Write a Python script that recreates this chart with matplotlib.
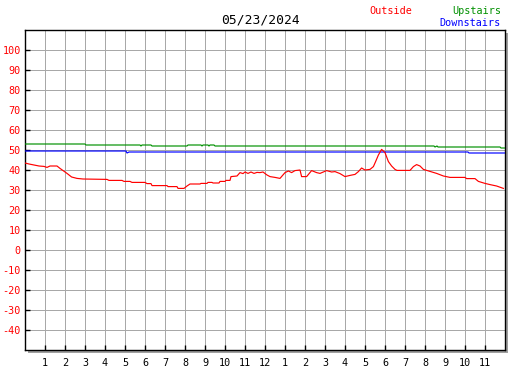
import numpy as np
import matplotlib
matplotlib.use("Agg")
import matplotlib.pyplot as plt
from matplotlib.patches import Rectangle

title = "05/23/2024"
x_labels = ['1','2','3','4','5','6','7','8','9','10','11','12',
            '1','2','3','4','5','6','7','8','9','10','11']
y_ticks = list(range(-40, 101, 10))

outside_h = [0.0, 0.2, 0.45, 0.7, 0.95, 1.1, 1.25, 1.6, 1.75, 2.1, 2.33, 2.6, 2.9,
             4.1, 4.2, 4.85, 4.95, 5.25, 5.35, 6.0, 6.1, 6.3, 6.35, 7.1, 7.15, 7.6,
             7.65, 7.95, 8.1, 8.25, 8.75, 8.8, 9.1, 9.15, 9.35, 9.4, 9.7, 9.75, 10.0,
             10.05, 10.25, 10.3, 10.6, 10.75, 10.9, 11.0, 11.15, 11.3, 11.45, 11.6,
             11.75, 11.9, 12.1, 12.25, 12.5, 12.75, 13.0, 13.17, 13.33, 13.5, 13.75,
             13.83, 14.08, 14.33, 14.58, 14.75, 15.08, 15.33, 15.5, 15.75, 16.0,
             16.25, 16.5, 16.67, 16.83, 17.0, 17.25, 17.42, 17.53, 17.67, 17.83,
             18.0, 18.17, 18.33, 18.5, 18.6, 19.25, 19.42, 19.58, 19.75, 19.92,
             20.25, 20.58, 20.92, 21.25, 22.0, 22.08, 22.5, 22.67, 23.0, 23.25,
             23.58, 23.92]
outside_v = [43.5, 43.0, 42.5, 42.0, 41.8, 41.3, 42.0, 42.0, 40.8, 38.3, 36.5, 35.8, 35.5,
             35.3, 34.8, 34.8, 34.3, 34.3, 33.8, 33.8, 33.2, 33.2, 32.2, 32.2, 31.7, 31.7,
             30.8, 30.8, 32.0, 33.0, 33.0, 33.3, 33.3, 33.8, 33.8, 33.5, 33.5, 34.3, 34.3,
             34.8, 34.8, 36.7, 37.0, 38.7, 38.2, 39.0, 38.3, 39.0, 38.3, 38.8,
             38.7, 39.0, 37.5, 36.7, 36.3, 35.8, 38.7, 39.5, 38.7, 39.7, 40.0,
             36.7, 36.7, 39.7, 38.7, 38.3, 39.7, 39.0, 39.2, 38.2, 36.7,
             37.3, 37.8, 39.2, 41.0, 40.0, 40.3, 41.7, 44.2, 47.5, 50.3,
             48.7, 44.2, 42.0, 40.3, 39.8, 39.8, 41.7, 42.7, 42.0, 40.3,
             39.3, 38.3, 37.0, 36.3, 36.3, 35.7, 35.7, 34.3, 33.3, 32.7,
             32.0, 30.8]

upstairs_h = [0.0, 3.0, 3.05, 5.75, 5.8, 5.85, 6.3, 6.35, 8.1, 8.15, 8.8, 8.85, 8.9,
              9.15, 9.2, 9.25, 9.45, 9.5, 20.45, 20.5, 20.6, 20.65, 23.75, 23.8, 24.0]
upstairs_v = [53.0, 53.0, 52.5, 52.5, 52.0, 52.5, 52.5, 52.0, 52.0, 52.5, 52.5, 52.0, 52.5,
              52.5, 52.0, 52.5, 52.5, 52.0, 52.0, 51.5, 52.0, 51.5, 51.5, 51.0, 51.0]

downstairs_h = [0.0, 5.05, 5.1, 5.2, 22.15, 22.2, 22.3, 24.0]
downstairs_v = [49.5, 49.5, 48.5, 49.0, 49.0, 48.5, 48.5, 48.5]

W, H = 527, 370
fig = plt.figure(figsize=(W/100, H/100), dpi=100)
fig.patch.set_facecolor('white')
L, R, T, B = 25, 505, 30, 350
# shadow
fig.patches.append(Rectangle(((L+3)/W, (H-B-3)/H), (R-L)/W, (B-T)/H,
                             transform=fig.transFigure, facecolor='#a0a0a0',
                             edgecolor='none', zorder=0))
ax = fig.add_axes([L/W, (H-B)/H, (R-L)/W, (B-T)/H], zorder=1)
ax.set_facecolor('white')
ax.set_xlim(0, 24)
ax.set_ylim(-50, 110)

for hh in range(1, 24):
    ax.axvline(hh, color='#a8a8a8', lw=0.72, zorder=1)
for yy in range(-40, 101, 10):
    ax.axhline(yy, color='#a8a8a8', lw=0.72, zorder=1)

ax.plot(upstairs_h, upstairs_v, color='#009000', lw=0.85, zorder=3)
ax.plot(downstairs_h, downstairs_v, color='#0000ff', lw=0.85, zorder=3)
ax.plot(outside_h, outside_v, color='#ff0000', lw=0.85, zorder=4)

mono = 'DejaVu Sans Mono'
ax.set_yticks(y_ticks)
ax.set_yticklabels([str(v) for v in y_ticks], color='#ff0000', family=mono, fontsize=7.3)
ax.set_xticks(range(1, 24))
ax.set_xticklabels(x_labels, color='black', family=mono, fontsize=7.3)
ax.tick_params(axis='both', direction='in', length=3.5, width=1, color='black')
ax.tick_params(axis='y', pad=3)
ax.tick_params(axis='x', pad=6)
for s in ax.spines.values():
    s.set_color('black')
    s.set_linewidth(1.0)

fig.text(261/W, 1-20/H, title, ha='center', va='center', family=mono, fontsize=9.4, color='black')
fig.text(369/W, 1-11/H, 'Outside', ha='left', va='center', family=mono, fontsize=7.3, color='#ff0000')
fig.text(501/W, 1-11/H, 'Upstairs', ha='right', va='center', family=mono, fontsize=7.3, color='#009000')
fig.text(501/W, 1-23/H, 'Downstairs', ha='right', va='center', family=mono, fontsize=7.3, color='#0000ff')

fig.savefig('out.png', dpi=100, facecolor='white')
